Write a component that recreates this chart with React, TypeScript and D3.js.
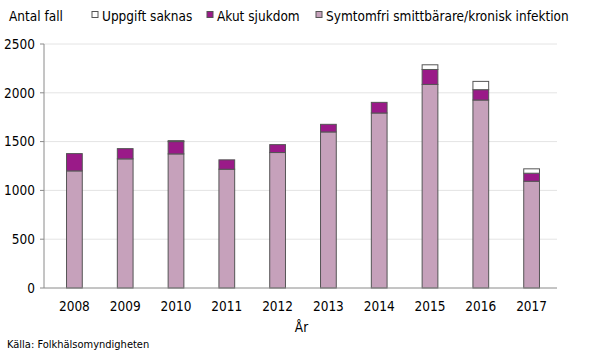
import React from "react";
import * as d3 from "d3";

// data
const years = ["2008", "2009", "2010", "2011", "2012", "2013", "2014", "2015", "2016", "2017"];
const symtomfri = [1200, 1323, 1374, 1217, 1388, 1599, 1793, 2086, 1926, 1094];
const akut = [177, 105, 126, 96, 81, 78, 109, 153, 106, 82];
const uppgiftSaknas = [0, 0, 10, 0, 0, 0, 0, 48, 85, 45];
const yTicks = [0, 500, 1000, 1500, 2000, 2500];

const seriesKeys = ["symtomfri", "akut", "uppgift"];
const seriesColors: Record<string, string> = {
  symtomfri: "#c6a1bb",
  akut: "#9a1a88",
  uppgift: "#ffffff",
};
const legendItems = [
  { key: "uppgift", label: "Uppgift saknas" },
  { key: "akut", label: "Akut sjukdom" },
  { key: "symtomfri", label: "Symtomfri smittbärare/kronisk infektion" },
];

const font = "'DejaVu Sans Condensed', 'DejaVu Sans', sans-serif";
const fs = 13.5;

const App: React.FC = () => {
  const width = 590;
  const height = 354;
  const margin = { top: 44, right: 33, bottom: 66, left: 44 };

  const rows = years.map((y, i) => ({
    year: y,
    symtomfri: symtomfri[i],
    akut: akut[i],
    uppgift: uppgiftSaknas[i],
  }));

  const stack = d3.stack<any>().keys(seriesKeys);
  const layers = stack(rows);

  const x = d3
    .scaleBand()
    .domain(years)
    .range([margin.left + 5, width - margin.right])
    .paddingInner(0.69)
    .paddingOuter(0.345);

  const y = d3
    .scaleLinear()
    .domain([0, 2500])
    .range([height - margin.bottom, margin.top]);

  const x0 = margin.left;
  const x1 = width - margin.right;

  return (
    <svg width={width} height={height} style={{ position: "absolute", left: 0, top: 0, background: "#fff" }}>
      {/* gridlines */}
      {yTicks.slice(1).map((t) => (
        <line key={t} x1={x0} x2={x1} y1={y(t)} y2={y(t)} stroke="#e4e4e4" strokeWidth={1} />
      ))}

      {/* y axis */}
      <line x1={x0} x2={x0} y1={y(2500)} y2={y(0)} stroke="#8a8a8a" />
      {yTicks.map((t) => (
        <g key={t}>
          <line x1={x0 - 4} x2={x0} y1={y(t)} y2={y(t)} stroke="#8a8a8a" />
          <text x={x0 - 9} y={y(t)} dy="0.35em" textAnchor="end" fontFamily={font} fontSize={fs} fill="#000">
            {t}
          </text>
        </g>
      ))}

      {/* bars */}
      {layers.map((layer) => (
        <g key={layer.key}>
          {layer.map((d, i) =>
            d[1] - d[0] > 0 ? (
              <rect
                key={i}
                x={x(years[i]) as number}
                width={x.bandwidth()}
                y={y(d[1])}
                height={y(d[0]) - y(d[1])}
                fill={seriesColors[layer.key]}
                stroke="#555"
                strokeWidth={1}
              />
            ) : null
          )}
        </g>
      ))}

      {/* x axis */}
      <line x1={x0} x2={x1} y1={y(0)} y2={y(0)} stroke="#8a8a8a" />
      {years.map((yr) => (
        <text
          key={yr}
          x={(x(yr) as number) + x.bandwidth() / 2}
          y={y(0) + 23}
          textAnchor="middle"
          fontFamily={font}
          fontSize={fs}
          fill="#000"
        >
          {yr}
        </text>
      ))}
      <text x={(x0 + x1) / 2 + 1} y={y(0) + 44} textAnchor="middle" fontFamily={font} fontSize={fs} fill="#000">
        År
      </text>

      {/* title + legend */}
      <text x={9} y={21} fontFamily={font} fontSize={fs} fill="#000">
        Antal fall
      </text>
      {legendItems.map((item, i) => {
        const lx = [92, 207, 316][i];
        return (
          <g key={item.key}>
            <rect x={lx} y={11.5} width={6} height={6} fill={seriesColors[item.key]} stroke="#555" strokeWidth={1} />
            <text x={lx + 10} y={21} fontFamily={font} fontSize={fs} fill="#000">
              {item.label}
            </text>
          </g>
        );
      })}

      <text x={7} y={348} fontFamily={font} fontSize={11} fill="#000">
        Källa: Folkhälsomyndigheten
      </text>
    </svg>
  );
};

export default App;
